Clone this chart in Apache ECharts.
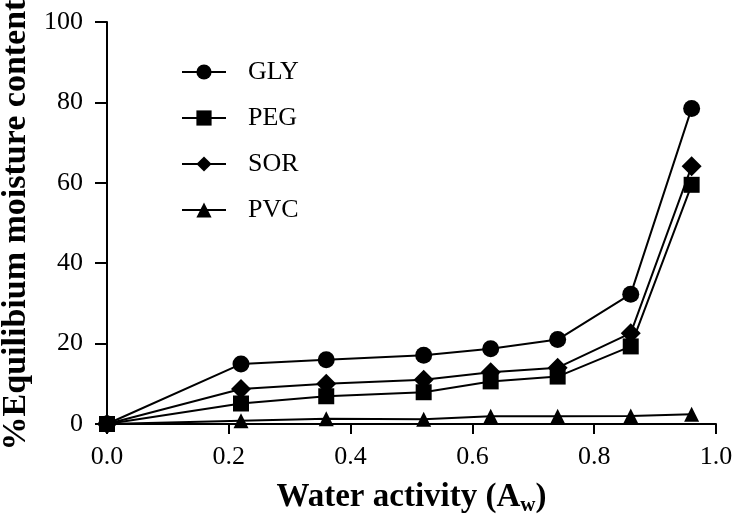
<!DOCTYPE html>
<html><head><meta charset="utf-8">
<script src="https://cdn.jsdelivr.net/npm/echarts@6/dist/echarts.min.js"></script>
<style>html,body{margin:0;padding:0;background:#fff}#c{width:734px;height:516px}</style>
</head><body><div id="c"></div>
<script>
const aw = [0, 0.22, 0.36, 0.52, 0.63, 0.74, 0.86, 0.96];
const GLY = [0, 14.9, 16.0, 17.1, 18.7, 21.0, 32.3, 78.5];
const PEG = [0, 5.1, 6.9, 7.9, 10.6, 11.8, 19.3, 59.5];
const SOR = [0, 8.7, 10.0, 11.0, 12.9, 14.0, 22.6, 64.1];
const PVC = [0, 0.8, 1.3, 1.2, 1.9, 1.9, 2.0, 2.4];
const yTicks = [0, 20, 40, 60, 80, 100];
const xTicks = [0.0, 0.2, 0.4, 0.6, 0.8, 1.0];

const font = 'Liberation Serif';
function pts(v){ return aw.map((x,i)=>[x, v[i]]); }
function mk(name, data, symbol, size){
  return {name, type:'line', data:pts(data), symbol, symbolSize:size,
    lineStyle:{color:'#000', width:2}, itemStyle:{color:'#000'}, animation:false};
}
const chart = echarts.init(document.getElementById('c'), null, {renderer:'canvas'});
chart.setOption({
  backgroundColor:'#fff',
  animation:false,
  grid:{left:107, right:18, top:22, bottom:92, containLabel:false, outerBoundsMode:'none'},
  legend:{orient:'vertical', left:181, top:59, padding:0, itemWidth:44, itemHeight:19, itemGap:20,
    data:['GLY','PEG','SOR','PVC'],
    textStyle:{fontFamily:font, fontSize:26, color:'#000', lineHeight:26, padding:[0,0,0,17]}},
  xAxis:{type:'value', min:0, max:1, interval:0.2,
    name:'{a|Water activity (A}{s|w}{a|)}', nameLocation:'middle', nameGap:55,
    nameTextStyle:{rich:{a:{fontFamily:font, fontSize:33, fontWeight:'bold', color:'#000'},
                         s:{fontFamily:font, fontSize:21, fontWeight:'bold', color:'#000', verticalAlign:'bottom', padding:[16,0,0,0]}}},
    axisLine:{lineStyle:{color:'#000', width:2}},
    axisTick:{inside:false, length:10, lineStyle:{color:'#000', width:2}},
    axisLabel:{fontFamily:font, fontSize:26, color:'#000', margin:20,
      formatter:v=>xTicks.find(t=>Math.abs(t-v)<1e-6).toFixed(1)},
    splitLine:{show:false}},
  yAxis:{type:'value', min:0, max:100, interval:20,
    name:'%Equilibium moisture content', nameLocation:'middle', nameGap:72,
    nameTextStyle:{fontFamily:font, fontSize:34, fontWeight:'bold', color:'#000', padding:[0,4,0,0]},
    axisLine:{show:true, lineStyle:{color:'#000', width:2}},
    axisTick:{show:true, length:12, lineStyle:{color:'#000', width:2}},
    axisLabel:{fontFamily:font, fontSize:26, color:'#000', margin:24,
      formatter:v=>String(yTicks.find(t=>t===v))},
    splitLine:{show:false}},
  series:[mk('GLY',GLY,'circle',17), mk('SOR',SOR,'diamond',20), mk('PVC',PVC,'triangle',15), mk('PEG',PEG,'rect',16)]
});
</script></body></html>
